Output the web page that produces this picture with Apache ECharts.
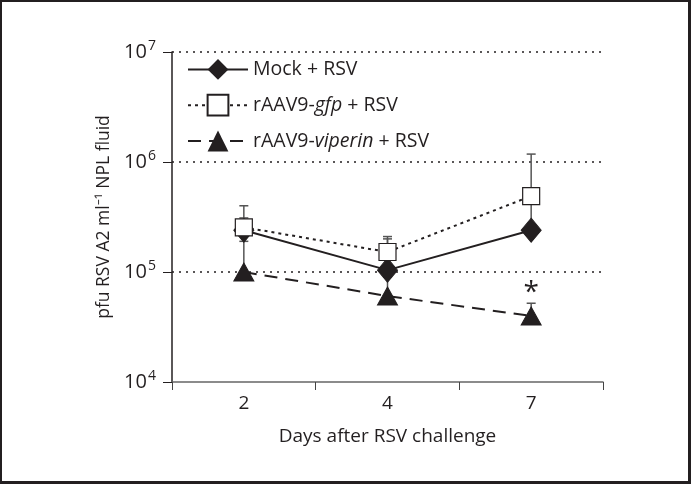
<!DOCTYPE html>
<html>
<head>
<meta charset="utf-8">
<script src="https://cdn.jsdelivr.net/npm/echarts@6/dist/echarts.min.js"></script>
<style>
html,body{margin:0;padding:0;background:#fff;}
#wrap{position:absolute;left:0;top:0;width:691px;height:484px;box-sizing:border-box;border:2px solid #231f20;border-right-width:3px;border-bottom-width:3px;}
#chart{position:absolute;left:0;top:0;width:691px;height:484px;}
</style>
</head>
<body>
<div id="chart"></div>
<div id="wrap"></div>
<script>
var days = ['2', '4', '7'];
var mockValues = [2.4e5, 1.04e5, 2.4e5];
var mockUpper = [3.1e5, 2.0e5, 4.5e5];
var gfpValues = [2.55e5, 1.52e5, 4.9e5];
var gfpUpper = [4.0e5, 2.1e5, 1.18e6];
var viperinValues = [1.0e5, 6.05e4, 3.98e4];
var viperinUpper = [1.9e5, 9.0e4, 5.2e4];
var yTicks = [1e4, 1e5, 1e6, 1e7];
var seriesNames = ['Mock + RSV', 'rAAV9-gfp + RSV', 'rAAV9-viperin + RSV'];
var legendLabels = {
  'Mock + RSV': 'Mock + RSV',
  'rAAV9-gfp + RSV': 'rAAV9-{i|gfp} + RSV',
  'rAAV9-viperin + RSV': 'rAAV9-{i|viperin} + RSV'
};

var FONT = 'Open Sans';
var INK = '#231f20';

function errData(vals, ups) {
  return vals.map(function (v, i) { return [i, v, ups[i]]; });
}
function errSeries(vals, ups) {
  return {
    type: 'custom',
    silent: true,
    z: 1,
    data: errData(vals, ups),
    renderItem: function (params, api) {
      var p0 = api.coord([api.value(0), api.value(1)]);
      var p1 = api.coord([api.value(0), api.value(2)]);
      var hw = 4.5;
      return {
        type: 'group',
        children: [
          { type: 'line', shape: { x1: p0[0], y1: p0[1], x2: p1[0], y2: p1[1] }, style: { stroke: '#555', lineWidth: 1.5 } },
          { type: 'line', shape: { x1: p1[0] - hw, y1: p1[1], x2: p1[0] + hw, y2: p1[1] }, style: { stroke: '#555', lineWidth: 1.5 } }
        ]
      };
    }
  };
}

var chart = echarts.init(document.getElementById('chart'), null, { renderer: 'canvas' });
chart.setOption({
  animation: false,
  backgroundColor: '#fff',
  grid: { left: 172, right: 88, top: 52, bottom: 102, containLabel: false },
  legend: {
    orient: 'vertical',
    left: 182,
    top: 54,
    itemGap: 14,
    itemWidth: 60,
    itemHeight: 26,
    data: seriesNames,
    formatter: function (n) { return legendLabels[n]; },
    textStyle: {
      fontFamily: FONT, fontSize: 19.5, color: INK,
      rich: { i: { fontFamily: FONT, fontSize: 19.5, fontStyle: 'italic', color: INK } }
    }
  },
  xAxis: {
    type: 'category',
    data: days,
    boundaryGap: true,
    axisLine: { lineStyle: { color: '#666', width: 1.5 } },
    axisTick: { show: true, inside: false, length: 8, lineStyle: { color: '#444' } },
    axisLabel: { fontFamily: FONT, fontSize: 19, color: INK, margin: 12 },
    name: 'Days after RSV challenge',
    nameLocation: 'middle',
    nameGap: 45,
    nameTextStyle: { fontFamily: FONT, fontSize: 19, color: INK },
    splitLine: { show: false }
  },
  yAxis: {
    type: 'log',
    logBase: 10,
    min: yTicks[0],
    max: yTicks[yTicks.length - 1],
    axisLine: { show: true, lineStyle: { color: INK, width: 1.5 } },
    axisTick: { show: true, inside: false, length: 9, lineStyle: { color: INK } },
    minorTick: { show: false },
    axisLabel: {
      margin: 16,
      formatter: function (v) {
        return '10{s|' + Math.round(Math.log10(v)) + '}';
      },
      fontFamily: FONT, fontSize: 20, color: INK,
      rich: { s: { fontFamily: FONT, fontSize: 14, color: INK, verticalAlign: 'top', padding: [0, 0, 11, 1] } }
    },
    splitLine: {
      show: true,
      lineStyle: { color: INK, type: [2, 5], width: 1.5 },
      showMinLine: false
    },
    name: 'pfu RSV A2 ml\u207B\u00B9 NPL fluid',
    nameLocation: 'middle',
    nameGap: 53,
    nameTextStyle: { fontFamily: FONT, fontSize: 17.5, color: INK }
  },
  series: [
    errSeries(mockValues, mockUpper),
    errSeries(gfpValues, gfpUpper),
    errSeries(viperinValues, viperinUpper),
    {
      name: seriesNames[2],
      type: 'line',
      z: 3,
      data: viperinValues,
      symbol: 'triangle',
      symbolSize: [20, 18],
      lineStyle: { color: INK, width: 2, type: [13, 8] },
      itemStyle: { color: INK, borderColor: INK },
      markPoint: {
        symbol: 'circle',
        symbolSize: 1,
        itemStyle: { color: 'rgba(0,0,0,0)' },
        label: { show: true, formatter: '*', fontFamily: FONT, fontSize: 28, color: INK, offset: [0, 6] },
        data: [{ coord: ['7', 7.3e4], value: '*' }]
      }
    },
    {
      name: seriesNames[0],
      type: 'line',
      z: 4,
      data: mockValues,
      symbol: 'diamond',
      symbolSize: [20, 24],
      lineStyle: { color: INK, width: 2, type: 'solid' },
      itemStyle: { color: INK, borderColor: INK }
    },
    {
      name: seriesNames[1],
      type: 'line',
      z: 5,
      data: gfpValues,
      symbol: 'rect',
      symbolSize: [17, 17],
      lineStyle: { color: INK, width: 2, type: [3, 4] },
      itemStyle: { color: '#fff', borderColor: INK, borderWidth: 1.2 }
    }
  ]
});
</script>
</body>
</html>
